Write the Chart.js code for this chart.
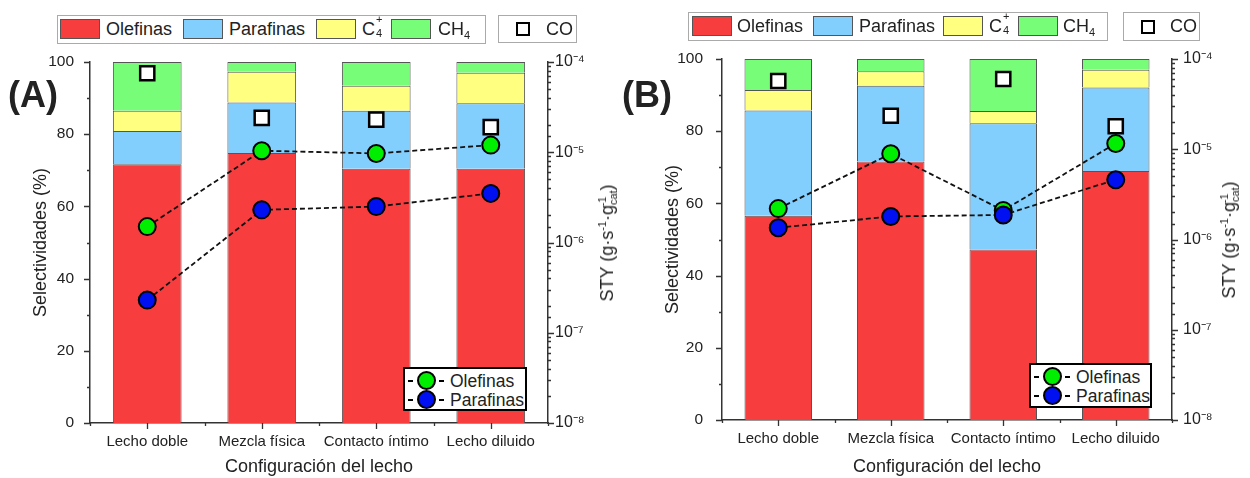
<!DOCTYPE html>
<html>
<head>
<meta charset="utf-8">
<script src="https://cdn.jsdelivr.net/npm/chart.js@4.4.0/dist/chart.umd.min.js"></script>
<style>
  body { margin: 0; background: #fff; width: 1250px; height: 478px; position: relative; overflow: hidden;
         font-family: "Liberation Sans", Arial, sans-serif; color: #222; }
  canvas { position: absolute; top: 0; }
  .box { position: absolute; border: 1px solid #aaa; background: #fff; }
  .sw { position: absolute; top: 3px; width: 40px; height: 20px; border: 1px solid #555; box-sizing: border-box; }
  .lt { position: absolute; top: 1px; font-size: 18px; line-height: 24px; white-space: nowrap; }
  .ss { display: inline-block; position: relative; width: 8px; height: 18px; vertical-align: top; }
  .ss .hi { position: absolute; left: 1px; top: -4px; font-size: 11px; line-height: 12px; }
  .ss .lo { position: absolute; left: 1px; top: 10px; font-size: 11px; line-height: 12px; }
  .sub { font-size: 11px; vertical-align: -4px; }
  .panel { position: absolute; font-size: 36px; font-weight: bold; top: 74px; }
  .sty { position: absolute; font-size: 18px; line-height: 24px; white-space: nowrap; transform: translate(-50%, -50%) rotate(-90deg); }
  .sty .up { font-size: 11px; line-height: 0; vertical-align: 7px; }
  .sty .dn { font-size: 11px; line-height: 0; vertical-align: -4px; }
  .inner { position: absolute; border: 2px solid #000; background: #fff; box-sizing: border-box; }
  .row { position: absolute; left: 0; height: 20px; font-size: 17.5px; line-height: 20px; white-space: nowrap; }
  .dash { position: absolute; top: 9px; width: 5px; height: 2px; background: #000; }
  .dot { position: absolute; top: 0; width: 19px; height: 19px; border-radius: 50%; border: 2px solid #000; box-sizing: border-box; }
  .sq { position: absolute; width: 14px; height: 14px; border: 2.5px solid #000; box-sizing: border-box; background: #fff; }
</style>
</head>
<body>
<canvas id="chartA" width="620" height="478" style="left:0"></canvas>
<canvas id="chartB" width="630" height="478" style="left:620px"></canvas>

<div class="panel" style="left:8px">(A)</div>
<div class="panel" style="left:622px">(B)</div>

<div class="box" style="left:57px;top:15px;width:427px;height:27px">
  <div class="sw" style="left:2px;background:#F83D3F"></div><div class="lt" style="left:48px">Olefinas</div>
  <div class="sw" style="left:125px;background:#82CEFD"></div><div class="lt" style="left:171px">Parafinas</div>
  <div class="sw" style="left:258px;background:#FFFF80"></div><div class="lt" style="left:304px">C<span class="ss"><span class="hi">+</span><span class="lo">4</span></span></div>
  <div class="sw" style="left:333px;background:#77FD77"></div><div class="lt" style="left:380px">CH<span class="sub">4</span></div>
</div>
<div class="box" style="left:498px;top:15px;width:77px;height:26px">
  <div class="sq" style="left:17px;top:6px"></div><div class="lt" style="left:47px">CO</div>
</div>

<div class="box" style="left:688px;top:12px;width:418px;height:27px">
  <div class="sw" style="left:3px;background:#F83D3F"></div><div class="lt" style="left:48px">Olefinas</div>
  <div class="sw" style="left:124px;background:#82CEFD"></div><div class="lt" style="left:170px">Parafinas</div>
  <div class="sw" style="left:254px;background:#FFFF80"></div><div class="lt" style="left:300px">C<span class="ss"><span class="hi">+</span><span class="lo">4</span></span></div>
  <div class="sw" style="left:329px;background:#77FD77"></div><div class="lt" style="left:374px">CH<span class="sub">4</span></div>
</div>
<div class="box" style="left:1123px;top:12px;width:75px;height:27px">
  <div class="sq" style="left:17px;top:7px"></div><div class="lt" style="left:46px">CO</div>
</div>

<div class="sty" style="left:607px;top:243px">STY (g·s<span class="up">-1</span>·g<span class="dn">cat</span><span class="up" style="margin-left:-16px;margin-right:6px">-1</span>)</div>
<div class="sty" style="left:1229px;top:240px">STY (g·s<span class="up">-1</span>·g<span class="dn">cat</span><span class="up" style="margin-left:-16px;margin-right:6px">-1</span>)</div>

<div class="inner" style="left:403px;top:367px;width:124px;height:44px">
  <div class="row" style="top:2px"><div class="dash" style="left:3px"></div><div class="dot" style="left:12px;background:#00EE00"></div><div class="dash" style="left:34px"></div><span style="position:absolute;left:45px">Olefinas</span></div>
  <div class="row" style="top:21px"><div class="dash" style="left:3px"></div><div class="dot" style="left:12px;background:#0010F0"></div><div class="dash" style="left:34px"></div><span style="position:absolute;left:45px">Parafinas</span></div>
</div>
<div class="inner" style="left:1029px;top:363px;width:123px;height:45px">
  <div class="row" style="top:2px"><div class="dash" style="left:3px"></div><div class="dot" style="left:12px;background:#00EE00"></div><div class="dash" style="left:34px"></div><span style="position:absolute;left:45px">Olefinas</span></div>
  <div class="row" style="top:21px"><div class="dash" style="left:3px"></div><div class="dot" style="left:12px;background:#0010F0"></div><div class="dash" style="left:34px"></div><span style="position:absolute;left:45px">Parafinas</span></div>
</div>

<script>
const categories = ['Lecho doble', 'Mezcla física', 'Contacto íntimo', 'Lecho diluido'];

// (A) selectivities (%)
const olefA = [71.7, 74.8, 70.4, 70.4];
const parA = [9.2, 14.0, 16.1, 18.2];
const c4A = [5.6, 8.5, 6.9, 8.4];
const ch4A = [13.5, 2.7, 6.6, 3.0];
// (A) STY (g s-1 gcat-1)
const coA = [7.5e-5, 2.4e-5, 2.3e-5, 1.9e-5];
const styOlefA = [1.5e-6, 1.04e-5, 9.7e-6, 1.2e-5];
const styParA = [2.3e-7, 2.3e-6, 2.5e-6, 3.5e-6];

// (B) selectivities (%)
const olefB = [56.6, 71.6, 47.2, 69.0];
const parB = [29.1, 21.0, 35.0, 23.1];
const c4B = [5.7, 4.0, 3.4, 4.9];
const ch4B = [8.6, 3.4, 14.4, 3.0];
// (B) STY
const coB = [5.7e-5, 2.35e-5, 6.0e-5, 1.8e-5];
const styOlefB = [2.2e-6, 8.9e-6, 2.1e-6, 1.16e-5];
const styParB = [1.35e-6, 1.8e-6, 1.87e-6, 4.6e-6];

const colors = { olef: '#F83D3F', par: '#82CEFD', c4: '#FFFF80', ch4: '#77FD77', ptOlef: '#00EE00', ptPar: '#0010F0' };
const FONT = '"Liberation Sans", Arial, sans-serif';

function isDecade(v) {
    const e = Math.log10(v);
    return Math.abs(e - Math.round(e)) < 1e-6;
}

function supNum(n) {
    const map = { '-': '⁻', '0': '⁰', '1': '¹', '2': '²', '3': '³', '4': '⁴', '5': '⁵', '6': '⁶', '7': '⁷', '8': '⁸', '9': '⁹' };
    return String(n).split('').map(c => map[c]).join('');
}

// draws outward tick marks, long at labelled values and short in between
const tickMarks = {
    id: 'tickMarks',
    afterDraw(chart) {
        const ctx = chart.ctx;
        const { x, y, y2 } = chart.scales;
        ctx.save();
        ctx.strokeStyle = '#333';
        ctx.lineWidth = 1.3;
        ctx.beginPath();
        y.ticks.forEach(t => {
            const p = Math.round(y.getPixelForValue(t.value)) + 0.5;
            const len = t.value % 20 === 0 ? 6 : 3;
            ctx.moveTo(y.right - len, p); ctx.lineTo(y.right, p);
        });
        y2.ticks.forEach(t => {
            const p = Math.round(y2.getPixelForValue(t.value)) + 0.5;
            const len = isDecade(t.value) ? 6 : 3;
            ctx.moveTo(y2.left, p); ctx.lineTo(y2.left + len, p);
        });
        for (let i = 0; i < categories.length; i++) {
            const c = Math.round(x.getPixelForValue(i)) + 0.5;
            ctx.moveTo(c, x.top); ctx.lineTo(c, x.top + 6);
        }
        for (let i = 0; i <= categories.length; i++) {
            const b = Math.round(x.getPixelForValue(i - 0.5)) + 0.5;
            ctx.moveTo(b, x.top); ctx.lineTo(b, x.top + 3);
        }
        ctx.stroke();
        ctx.restore();
    }
};

function makeChart(id, olef, par, c4, ch4, co, styOlef, styPar, geo) {
    const bar = (label, data, color) => ({
        label, data, backgroundColor: color, borderColor: '#555', borderWidth: 1,
        yAxisID: 'y', order: 3, categoryPercentage: 0.6, barPercentage: 1
    });
    const sty = (label, data, color, order) => ({
        type: 'line', label, data, yAxisID: 'y2', order,
        borderColor: '#111', borderWidth: 1.8, borderDash: [5, 3],
        pointRadius: 8.5, pointBackgroundColor: color, pointBorderColor: '#000', pointBorderWidth: 2
    });

    return new Chart(document.getElementById(id), {
        type: 'bar',
        data: {
            labels: categories,
            datasets: [
                {
                    type: 'line', label: 'CO', data: co, yAxisID: 'y2', order: 0, showLine: false,
                    pointStyle: 'rect', pointRadius: 10, pointBackgroundColor: '#fff',
                    pointBorderColor: '#000', pointBorderWidth: 2.5
                },
                sty('STY Parafinas', styPar, colors.ptPar, 1),
                sty('STY Olefinas', styOlef, colors.ptOlef, 2),
                bar('Olefinas', olef, colors.olef),
                bar('Parafinas', par, colors.par),
                bar('C4+', c4, colors.c4),
                bar('CH4', ch4, colors.ch4)
            ]
        },
        options: {
            responsive: false,
            animation: false,
            layout: { padding: { left: geo.padL, top: geo.padT, right: 0, bottom: 0 } },
            plugins: { legend: { display: false }, tooltip: { enabled: false } },
            scales: {
                x: {
                    stacked: true,
                    grid: { display: false, drawTicks: false },
                    border: { color: '#333', width: 1.5 },
                    ticks: { color: '#222', font: { family: FONT, size: 15 }, padding: 10, autoSkip: false, maxRotation: 0 },
                    title: { display: true, text: 'Configuración del lecho', color: '#222', font: { family: FONT, size: 18 }, padding: 0 },
                    afterFit(s) { s.height = geo.xH; }
                },
                y: {
                    stacked: true, min: 0, max: 100,
                    grid: { display: false, drawTicks: false },
                    border: { color: '#333', width: 1.5 },
                    ticks: {
                        stepSize: 10, autoSkip: false, color: '#222', padding: geo.yPad,
                        font: { family: FONT, size: 15.5 },
                        callback: v => (v % 20 === 0 ? v : '')
                    },
                    title: { display: true, text: 'Selectividades (%)', color: '#222', font: { family: FONT, size: 18 }, padding: 0 },
                    afterFit(s) { s.width = geo.yW; }
                },
                y2: {
                    type: 'logarithmic', position: 'right', min: 1e-8, max: 1e-4,
                    grid: { display: false, drawTicks: false },
                    border: { color: '#333', width: 1.5 },
                    ticks: {
                        autoSkip: false, color: '#222', padding: geo.y2Pad,
                        font: { family: FONT, size: 16 },
                        callback: v => (isDecade(v) ? '10' + supNum(Math.round(Math.log10(v))) : '')
                    },
                    afterFit(s) { s.width = geo.y2W; }
                }
            }
        },
        plugins: [tickMarks]
    });
}

makeChart('chartA', olefA, parA, c4A, ch4A, coA, styOlefA, styParA,
    { padL: 30, padT: 62, yW: 60, y2W: 72, xH: 55, yPad: 16, y2Pad: 7 });
makeChart('chartB', olefB, parB, c4B, ch4B, coB, styOlefB, styParB,
    { padL: 42, padT: 59, yW: 60, y2W: 78, xH: 58, yPad: 19, y2Pad: 11 });
</script>
</body>
</html>
